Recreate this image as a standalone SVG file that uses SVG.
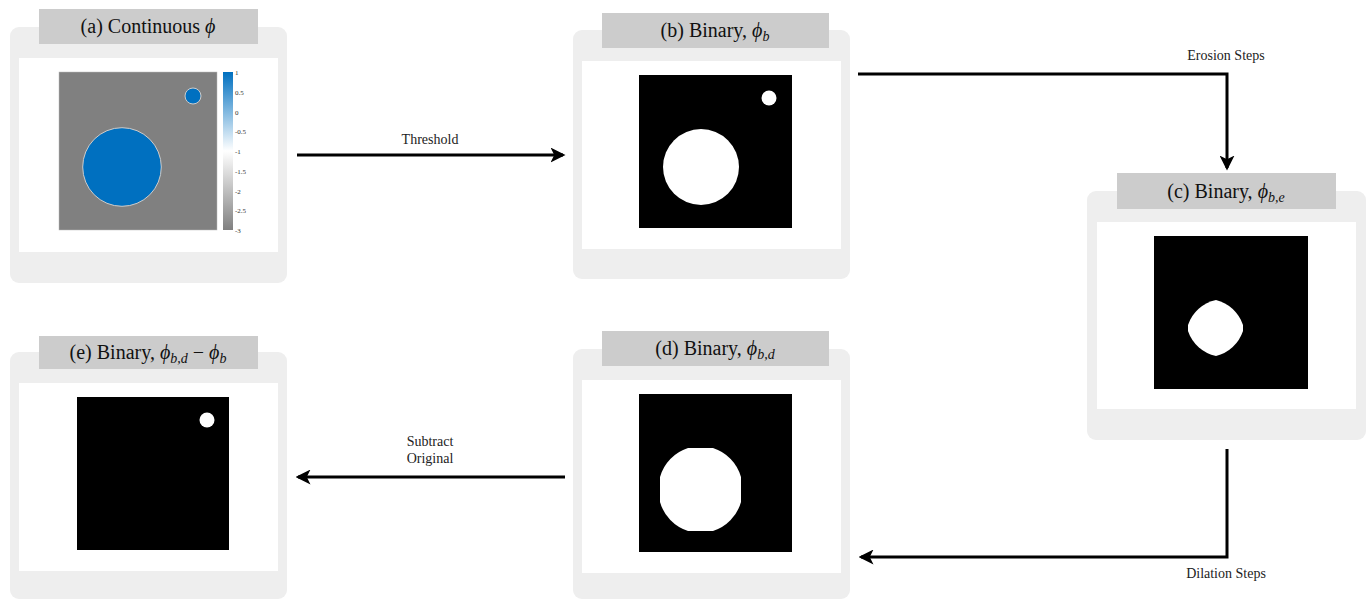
<svg xmlns="http://www.w3.org/2000/svg" width="1368" height="600" viewBox="0 0 1368 600">
<style>
.outer{fill:#EEEEEE}
.inner{fill:#FFFFFF}
.title{fill:#CCCCCC}
.tt{font-family:'Liberation Serif',serif;font-size:20px;fill:#111;text-anchor:middle}
.ph{font-style:italic}
.sub{font-style:italic;font-size:14px}
.lbl{font-family:'Liberation Serif',serif;font-size:14px;fill:#222;text-anchor:middle}
.cb{font-family:'Liberation Serif',serif;font-size:7px;fill:#333}
.con{fill:none;stroke:#000;stroke-width:3}
</style>
<defs>
<marker id="ah" viewBox="0 0 12 12" refX="10" refY="6" markerWidth="5" markerHeight="5" orient="auto" markerUnits="strokeWidth">
<path d="M0,0 L12,6 L0,12 L3,6 Z" fill="#000"/>
</marker>
<linearGradient id="cbg" x1="0" y1="0" x2="0" y2="1">
<stop offset="0" stop-color="#0070C0"/>
<stop offset="0.5" stop-color="#FFFFFF"/>
<stop offset="1" stop-color="#808080"/>
</linearGradient>
</defs>
<g id="connectors">
<line class="con" x1="297" y1="155" x2="563" y2="155" marker-end="url(#ah)"/>
<text class="lbl" x="430" y="144">Threshold</text>
<polyline class="con" points="858,74 1227,74 1227,168" marker-end="url(#ah)"/>
<text class="lbl" x="1226" y="60">Erosion Steps</text>
<polyline class="con" points="1227,449 1227,557 861,557" marker-end="url(#ah)"/>
<text class="lbl" x="1226" y="578">Dilation Steps</text>
<line class="con" x1="565" y1="477" x2="298" y2="477" marker-end="url(#ah)"/>
<text class="lbl" x="430" y="446">Subtract</text>
<text class="lbl" x="430" y="463">Original</text>
</g>

<g id="node-a">
<rect class="outer" x="10" y="27" width="277" height="256" rx="9"/>
<rect class="inner" x="19" y="58" width="259" height="194"/>
<rect class="title" x="39" y="9" width="219" height="35"/>
<text class="tt" x="148" y="33">(a) Continuous <tspan class="ph">ϕ</tspan></text>
<rect x="59" y="72" width="158" height="158" fill="#808080" stroke="#bbb" stroke-width="0.5"/>
<circle cx="122" cy="167" r="39.3" fill="#0070C0" stroke="#ccc" stroke-width="1"/>
<circle cx="193" cy="96" r="8" fill="#0070C0" stroke="#ccc" stroke-width="1"/>
<rect x="223" y="72" width="10" height="158" fill="url(#cbg)"/>
<g class="cb">
<text x="235" y="75">1</text>
<text x="235" y="94.7">0.5</text>
<text x="235" y="114.5">0</text>
<text x="235" y="134.2">-0.5</text>
<text x="235" y="154">-1</text>
<text x="235" y="173.7">-1.5</text>
<text x="235" y="193.5">-2</text>
<text x="235" y="213.2">-2.5</text>
<text x="235" y="233">-3</text>
</g>
</g>

<g id="node-b">
<rect class="outer" x="573" y="30" width="277" height="249" rx="9"/>
<rect class="inner" x="582" y="61" width="259" height="188"/>
<rect class="title" x="602" y="13" width="227" height="35"/>
<text class="tt" x="715" y="37">(b) Binary, <tspan class="ph">ϕ</tspan><tspan class="sub" dy="4">b</tspan></text>
<rect x="639" y="75" width="153" height="153" fill="#000"/>
<circle cx="701" cy="167" r="38" fill="#fff"/>
<circle cx="769" cy="98" r="7.5" fill="#fff"/>
</g>

<g id="node-c">
<rect class="outer" x="1087" y="191" width="279" height="249" rx="9"/>
<rect class="inner" x="1097" y="222" width="259" height="187"/>
<rect class="title" x="1117" y="173" width="219" height="36"/>
<text class="tt" x="1226" y="198">(c) Binary, <tspan class="ph">ϕ</tspan><tspan class="sub" dy="4">b,e</tspan></text>
<rect x="1154" y="236" width="154" height="153" fill="#000"/>
<path d="M1216,300 A38,38 0 0 1 1243,325 L1243,331 A38,38 0 0 1 1216,356 A38,38 0 0 1 1188,331 L1188,325 A38,38 0 0 1 1216,300 Z" fill="#fff"/>
</g>

<g id="node-d">
<rect class="outer" x="573" y="349" width="277" height="250" rx="9"/>
<rect class="inner" x="582" y="380" width="259" height="193"/>
<rect class="title" x="602" y="331" width="227" height="35"/>
<text class="tt" x="715" y="355">(d) Binary, <tspan class="ph">ϕ</tspan><tspan class="sub" dy="4">b,d</tspan></text>
<rect x="639" y="394" width="153" height="158" fill="#000"/>
<path d="M688,448 L713,448 A42.4,42.4 0 0 1 741,477 L741,502 A42.4,42.4 0 0 1 713,531 L688,531 A42.4,42.4 0 0 1 660,502 L660,477 A42.4,42.4 0 0 1 688,448 Z" fill="#fff"/>
</g>

<g id="node-e">
<rect class="outer" x="10" y="352" width="277" height="247" rx="9"/>
<rect class="inner" x="19" y="383" width="259" height="188"/>
<rect class="title" x="39" y="336" width="219" height="33"/>
<text class="tt" x="148" y="359">(e) Binary, <tspan class="ph">ϕ</tspan><tspan class="sub" dy="4">b,d</tspan><tspan dy="-4"> − </tspan><tspan class="ph">ϕ</tspan><tspan class="sub" dy="4">b</tspan></text>
<rect x="77" y="397" width="152" height="153" fill="#000"/>
<circle cx="207" cy="420" r="7.5" fill="#fff"/>
</g>
</svg>
